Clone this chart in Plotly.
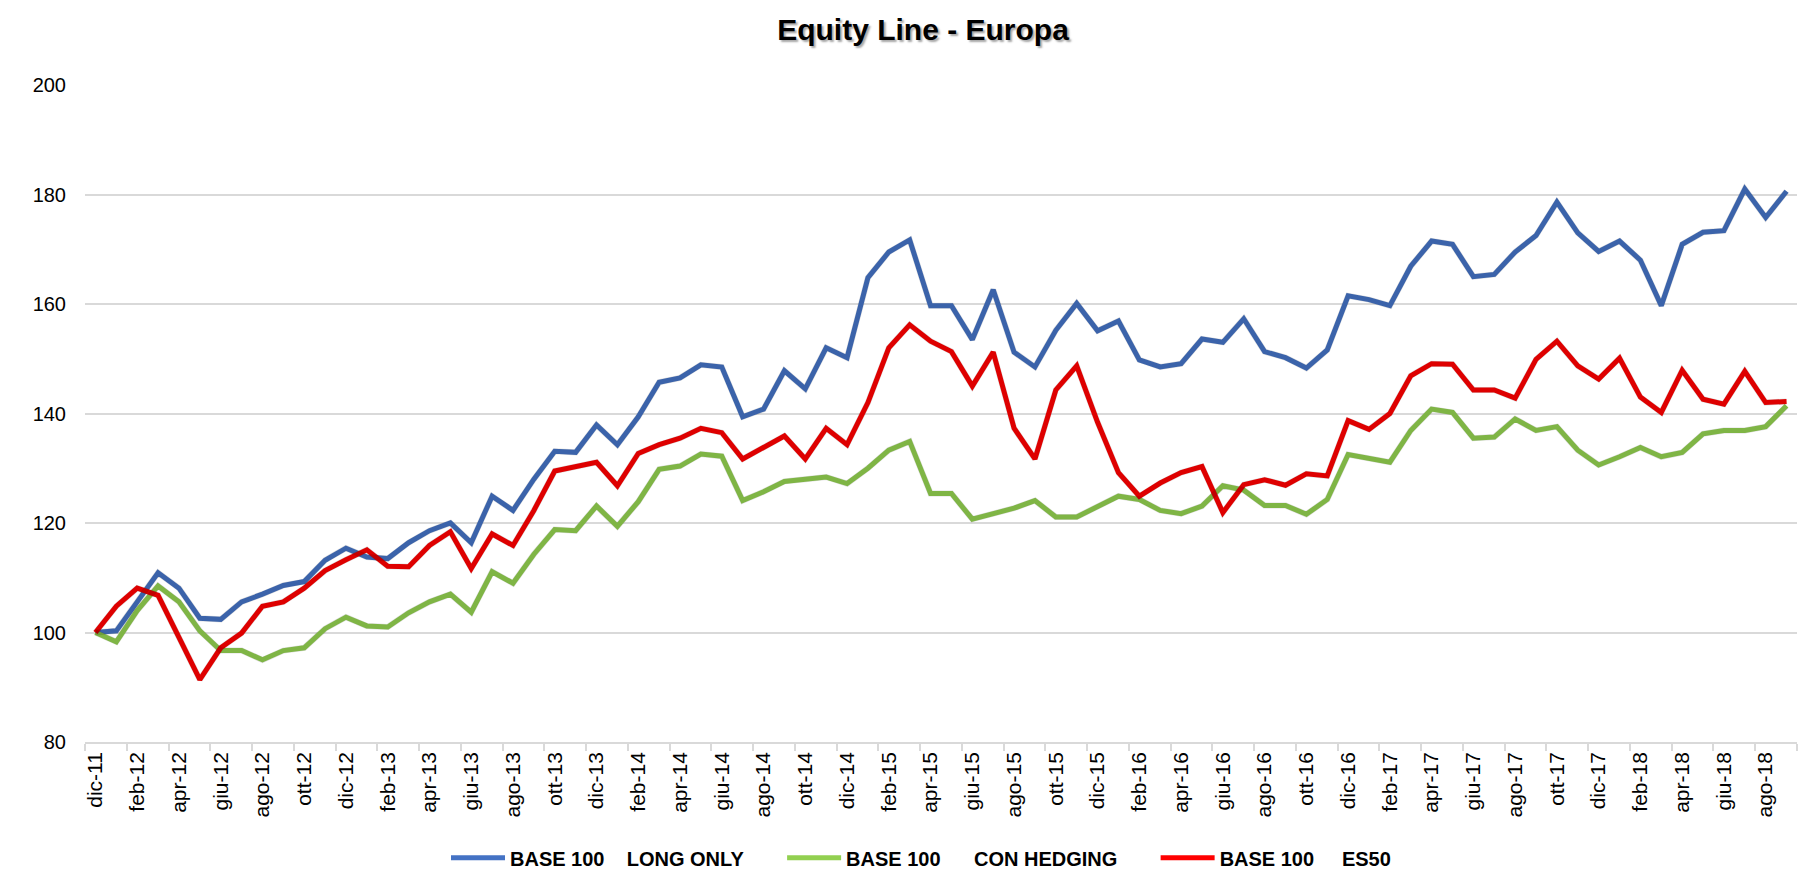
import plotly.graph_objects as go

months_it = ["gen", "feb", "mar", "apr", "mag", "giu", "lug", "ago", "set", "ott", "nov", "dic"]
# categories: dic-11 .. set-18
dates = ["dic-11"] + [f"{m}-{y}" for y in range(12, 19) for m in months_it]
dates = dates[:82]

long_only = [100.0, 100.3, 105.6, 110.9, 108.1, 102.6, 102.4, 105.6, 107.0, 108.6,
             109.3, 113.2, 115.4, 113.8, 113.5, 116.4, 118.6, 120.0, 116.4, 124.9,
             122.3, 128.0, 133.1, 132.9, 137.9, 134.3, 139.4, 145.7, 146.5, 148.9,
             148.5, 139.4, 140.8, 147.8, 144.5, 152.0, 150.2, 164.8, 169.5, 171.7,
             159.7, 159.7, 153.5, 162.6, 151.2, 148.5, 155.2, 160.1, 155.1, 156.9,
             149.8, 148.5, 149.1, 153.6, 153.0, 157.3, 151.3, 150.2, 148.3, 151.6,
             161.5, 160.8, 159.7, 166.9, 171.5, 170.9, 165.0, 165.4, 169.5, 172.5,
             178.6, 173.0, 169.6, 171.5, 168.0, 159.7, 170.9, 173.1, 173.4, 181.0,
             175.8, 180.6]

con_hedging = [100.0, 98.3, 104.0, 108.5, 105.6, 100.3, 96.7, 96.7, 95.0, 96.7,
               97.2, 100.7, 102.8, 101.2, 101.0, 103.6, 105.6, 107.0, 103.7, 111.1,
               109.0, 114.3, 118.8, 118.6, 123.1, 119.4, 123.9, 129.8, 130.4, 132.6,
               132.2, 124.1, 125.7, 127.6, 128.0, 128.4, 127.2, 130.0, 133.3, 134.9,
               125.4, 125.4, 120.7, 121.6, 122.7, 124.1, 121.1, 121.1, 123.1, 124.9,
               124.3, 122.3, 121.7, 123.1, 126.8, 126.0, 123.2, 123.2, 121.6, 124.3,
               132.5, 131.9, 131.1, 136.9, 140.8, 140.2, 135.5, 135.7, 139.0, 136.9,
               137.6, 133.3, 130.6, 132.1, 133.8, 132.1, 132.9, 136.3, 136.9, 136.9,
               137.6, 141.4]

es50 = [100.0, 104.8, 108.1, 106.8, 99.1, 91.4, 97.2, 99.9, 104.8, 105.6,
        108.1, 111.3, 113.3, 115.1, 112.1, 112.0, 115.9, 118.4, 111.7, 118.0,
        115.9, 122.3, 129.5, 130.3, 131.1, 126.8, 132.7, 134.3, 135.5, 137.3,
        136.5, 131.7, 133.8, 135.9, 131.7, 137.3, 134.3, 142.0, 152.0, 156.2,
        153.2, 151.3, 145.0, 151.2, 137.3, 131.7, 144.3, 148.7, 138.4, 129.2,
        124.9, 127.3, 129.2, 130.3, 121.9, 127.0, 127.9, 126.9, 129.0, 128.6,
        138.7, 137.1, 140.0, 146.9, 149.1, 149.0, 144.3, 144.3, 142.8, 149.9,
        153.2, 148.7, 146.3, 150.1, 143.0, 140.2, 147.9, 142.6, 141.7, 147.7,
        142.0, 142.2]

NB = "\u00a0"
series = [
    ("BASE 100" + NB * 4 + "LONG ONLY" + NB * 6, long_only, "#4472C4"),
    ("BASE 100" + NB * 6 + "CON HEDGING" + NB * 6, con_hedging, "#92D050"),
    ("BASE 100" + NB * 5 + "ES50", es50, "#FF0000"),
]

W, H = 1805, 870
ML, MR, MT, MB = 85, 6, 85, 125
pw, ph = W - ML - MR, H - MT - MB
dx, dy = 2 / pw, 3 / ph  # soft drop-shadow offset
XR = [-0.5, len(dates) - 0.5]
YR = [80, 200]

fig = go.Figure()
# drop shadows (same data, drawn on overlay axes shifted by a few pixels)
for name, vals, color in series:
    fig.add_trace(go.Scatter(
        x=dates, y=vals, mode="lines", xaxis="x2", yaxis="y2",
        line=dict(color="rgba(0,0,0,0.13)", width=6),
        showlegend=False, hoverinfo="skip",
    ))
for name, vals, color in series:
    fig.add_trace(go.Scatter(
        x=dates, y=vals, mode="lines", name=name,
        line=dict(color=color, width=5),
    ))

fig.update_layout(
    width=W, height=H,
    paper_bgcolor="white", plot_bgcolor="white",
    margin=dict(l=ML, r=MR, t=MT, b=MB),
    title=dict(
        text="<b>Equity Line - Europa</b>",
        x=923 / W, xref="container", xanchor="center",
        y=1 - 29 / H, yref="container", yanchor="middle",
        font=dict(family="Liberation Sans, Arial", size=30, color="black",
                  shadow="2px 2px 2px rgba(0,0,0,0.35)"),
    ),
    legend=dict(
        orientation="h", xref="container", yref="container",
        x=446 / W, xanchor="left", y=0.014, yanchor="middle",
        font=dict(family="Liberation Sans, Arial", size=20, color="black",
                  weight="bold"),
        itemwidth=54, tracegroupgap=0,
    ),
    font=dict(family="Liberation Sans, Arial", color="black"),
    xaxis=dict(
        type="category", dtick=2, tick0=0, tickangle=-90, domain=[0, 1 - dx],
        tickson="boundaries", ticks="outside", ticklen=7, tickcolor="#d9d9d9", tickwidth=1.5,
        showline=True, linecolor="#d9d9d9", linewidth=1.5,
        showgrid=False, tickfont=dict(size=21, color="black"),
        range=XR,
    ),
    yaxis=dict(
        range=YR, dtick=20, tick0=80, domain=[dy, 1],
        showgrid=True, gridcolor="#d9d9d9", gridwidth=1.5,
        zeroline=False, showline=False,
        ticks="outside", ticklen=14, tickcolor="rgba(0,0,0,0)",
        tickfont=dict(size=20, color="black"),
    ),
    xaxis2=dict(overlaying="x", type="category", domain=[dx, 1], visible=False,
                range=XR, anchor="y2"),
    yaxis2=dict(overlaying="y", domain=[0, 1 - dy], visible=False, range=YR, anchor="x2"),
)

fig.write_html("out.html", config={"displayModeBar": False},
               post_script="document.body.style.margin='0px';document.body.style.overflow='hidden';")
